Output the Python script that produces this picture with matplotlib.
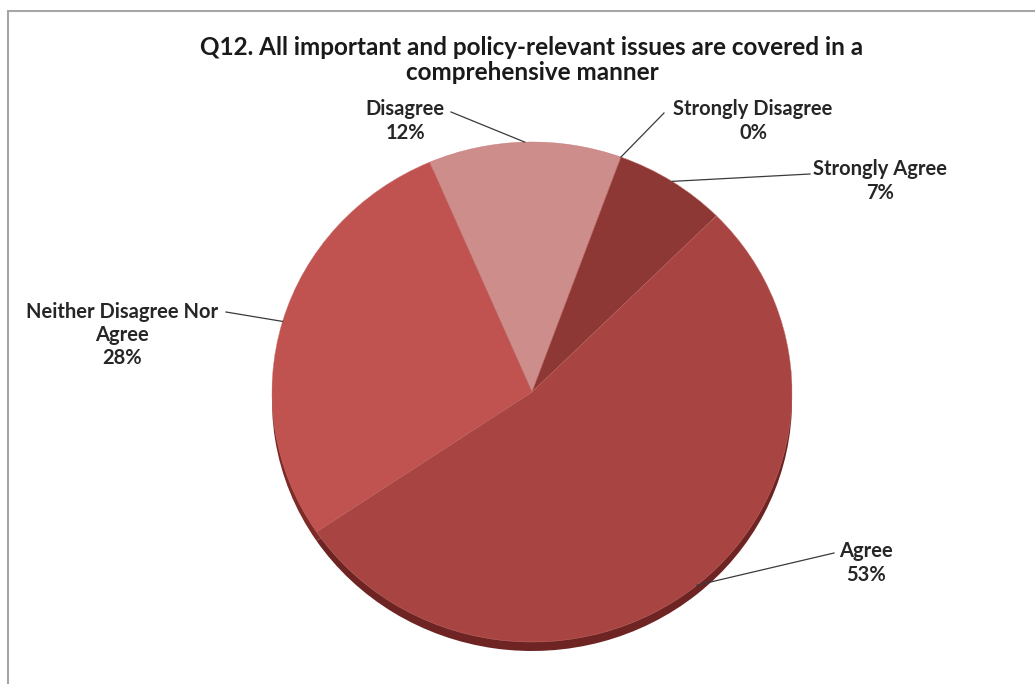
import numpy as np
import matplotlib
matplotlib.use("Agg")
import matplotlib.pyplot as plt
from matplotlib.patches import Rectangle

plt.rcParams['font.family'] = ['Lato', 'DejaVu Sans']

labels = ['Disagree', 'Strongly Disagree', 'Strongly Agree', 'Agree', 'Neither Disagree Nor\nAgree']
shares = [12, 0, 7, 53, 28]
colors = ['#CC8D8B', '#C98A88', '#8E3836', '#A84543', '#C0534F']
side_colors = ['#8A4A48', '#8A4A48', '#5E1E1C', '#6E2422', '#7E2A27']

# centre of each label block, in pixels
label_pos = [(405, 121), (753, 121), (880, 181), (866, 563), (122, 335)]
# where the leader line leaves the text, in pixels
line_start = [(451, 112), (664, 113), (810, 174), (834, 553), (226, 312)]

title = 'Q12. All important and policy-relevant issues are covered in a\ncomprehensive manner'

W, H = 1035, 684
CX, CY, RX, RY = 532, 392, 260, 250

fig = plt.figure(figsize=(W / 100, H / 100), dpi=100)
ax = fig.add_axes([0, 0, 1, 1])


def to_data(px, py):
    return (px - CX) / RX, (CY - py) / RY


start = 113.2
# side of the disc, shifted down a little
ax.pie(shares, colors=side_colors, startangle=start, counterclock=False,
       center=(0, -0.036), radius=1.0, frame=True,
       wedgeprops=dict(linewidth=0))
wedges, _ = ax.pie(shares, colors=colors, startangle=start, counterclock=False,
                   center=(0, 0), radius=1.0, frame=True,
                   wedgeprops=dict(linewidth=0.3, edgecolor='#C87572'))
ax.set_xlim(-CX / RX, (W - CX) / RX)
ax.set_ylim((CY - H) / RY, CY / RY)
ax.set_aspect('auto')
ax.axis('off')

for w, lab, val, (lx, ly), (sx, sy) in zip(wedges, labels, shares, label_pos, line_start):
    mid = np.deg2rad((w.theta1 + w.theta2) / 2)
    tip = (np.cos(mid), np.sin(mid))
    ax.plot([to_data(sx, sy)[0], tip[0]], [to_data(sx, sy)[1], tip[1]],
            color='#3A3A3A', lw=0.9, zorder=5)
    tx, ty = to_data(lx, ly)
    ax.text(tx, ty, f'{lab}\n{val}%', ha='center', va='center',
            fontsize=14.5, fontweight='bold', color='#262626',
            linespacing=1.2, zorder=6)

fig.text(532 / W, 1 - 60 / H, title, ha='center', va='center',
         fontsize=17.5, fontweight='bold', color='#1A1A1A', linespacing=1.1)

# chart frame, running off the right and bottom edges
fig.add_artist(Rectangle((8 / W, -0.01), 1.1, 1 - 11 / H + 0.01,
                         transform=fig.transFigure, fill=False,
                         edgecolor='#A6A6A6', lw=1.5))

fig.savefig('out.png', dpi=100)
